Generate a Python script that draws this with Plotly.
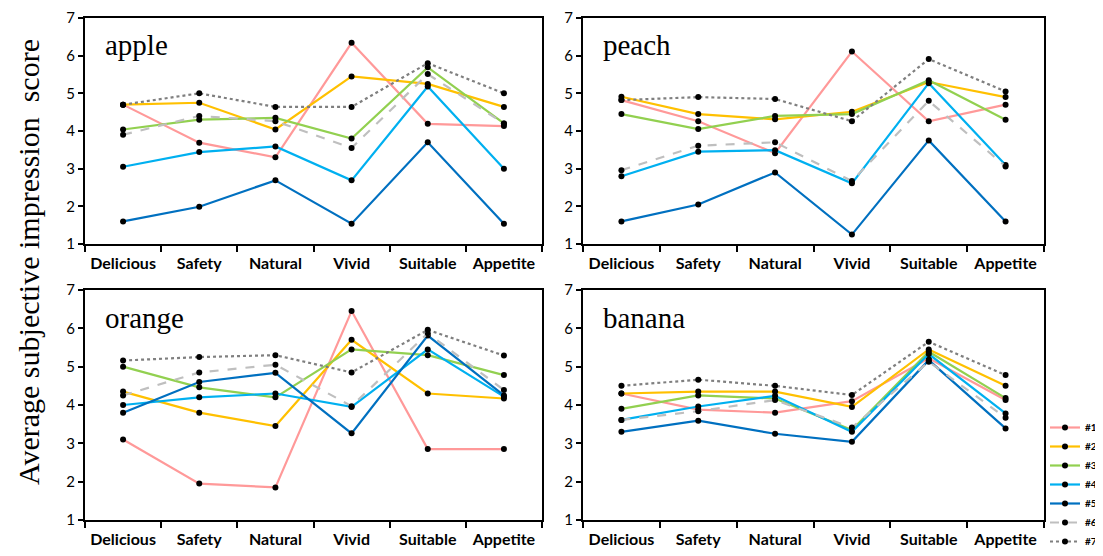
import plotly.graph_objects as go

categories = ["Delicious", "Safety", "Natural", "Vivid", "Suitable", "Appetite"]
series_names = ["#1", "#2", "#3", "#4", "#5", "#6", "#7"]
y_ticks = [1, 2, 3, 4, 5, 6, 7]

apple = [
    [4.70, 3.69, 3.30, 6.34, 4.19, 4.13],
    [4.70, 4.75, 4.04, 5.45, 5.25, 4.64],
    [4.04, 4.30, 4.35, 3.80, 5.69, 4.20],
    [3.05, 3.44, 3.59, 2.69, 5.18, 3.00],
    [1.60, 1.99, 2.69, 1.54, 3.70, 1.54],
    [3.90, 4.40, 4.26, 3.55, 5.51, 4.20],
    [4.70, 5.00, 4.64, 4.64, 5.80, 5.00],
]
peach = [
    [4.82, 4.26, 3.41, 6.11, 4.26, 4.70],
    [4.91, 4.45, 4.31, 4.51, 5.30, 4.90],
    [4.45, 4.05, 4.40, 4.45, 5.35, 4.30],
    [2.80, 3.45, 3.49, 2.61, 5.27, 3.10],
    [1.60, 2.05, 2.90, 1.25, 3.75, 1.60],
    [2.96, 3.61, 3.70, 2.67, 4.80, 3.06],
    [4.82, 4.90, 4.85, 4.26, 5.91, 5.05],
]
orange = [
    [3.10, 1.95, 1.85, 6.45, 2.85, 2.85],
    [4.35, 3.80, 3.45, 5.70, 4.30, 4.17],
    [5.00, 4.46, 4.20, 5.45, 5.30, 4.78],
    [4.00, 4.20, 4.30, 3.95, 5.45, 4.22],
    [3.80, 4.60, 4.84, 3.26, 5.81, 4.25],
    [4.25, 4.85, 5.05, 3.97, 5.87, 4.39],
    [5.16, 5.25, 5.30, 4.85, 5.96, 5.29],
]
banana = [
    [4.30, 3.88, 3.80, 4.10, 5.22, 4.13],
    [4.30, 4.35, 4.35, 3.95, 5.45, 4.50],
    [3.90, 4.25, 4.17, 3.35, 5.39, 4.18],
    [3.61, 3.96, 4.24, 3.30, 5.33, 3.78],
    [3.30, 3.59, 3.25, 3.04, 5.17, 3.39],
    [3.61, 3.84, 4.13, 3.41, 5.13, 3.67],
    [4.50, 4.66, 4.50, 4.26, 5.65, 4.78],
]
fruits = ["apple", "peach", "orange", "banana"]
fruit_data = [apple, peach, orange, banana]

colors = ["#FF9999", "#FFC000", "#92D050", "#00B0F0", "#0070C0", "#BFBFBF", "#7F7F7F"]
dashes = ["solid", "solid", "solid", "solid", "solid", "dash", "dot"]

# page body has an 8px margin, so the figure is drawn 8px smaller and offset
OFF = 8
W, H = 1103 - OFF, 556 - OFF


def px_x(v):
    return (v - OFF) / W


def px_y(v):
    return 1 - (v - OFF) / H


x_domains = [[px_x(85), px_x(542)], [px_x(583), px_x(1044)],
             [px_x(85), px_x(542)], [px_x(583), px_x(1044)]]
y_domains = [[px_y(244), px_y(18)], [px_y(244), px_y(18)],
             [px_y(520), px_y(290)], [px_y(520), px_y(290)]]

fig = go.Figure()
for p, (fruit, data) in enumerate(zip(fruits, fruit_data)):
    ax = "" if p == 0 else str(p + 1)
    for i, vals in enumerate(data):
        fig.add_trace(go.Scatter(
            x=categories, y=vals, name=series_names[i],
            mode="lines+markers",
            line=dict(color=colors[i], width=2.2, dash=dashes[i]),
            marker=dict(color="black", size=6),
            xaxis="x" + ax, yaxis="y" + ax,
            showlegend=(p == 3), legendrank=i,
        ))

layout = dict(
    width=W, height=H,
    margin=dict(l=0, r=0, t=0, b=0, autoexpand=False),
    paper_bgcolor="white", plot_bgcolor="white",
    showlegend=True,
    legend=dict(x=px_x(1045), y=0.0, xanchor="left", yanchor="bottom",
                itemwidth=30, tracegroupgap=0,
                font=dict(family="Lato", size=10, color="black", weight="bold"),
                bgcolor="rgba(0,0,0,0)", traceorder="normal"),
    annotations=[],
)
for p, fruit in enumerate(fruits):
    ax = "" if p == 0 else str(p + 1)
    layout["xaxis" + ax] = dict(
        domain=x_domains[p], anchor="y" + ax, type="category",
        categoryorder="array", categoryarray=categories,
        range=[-0.5, 5.5], tickson="boundaries", ticks="outside", ticklen=6,
        tickwidth=1.5, tickcolor="black", automargin=False,
        showline=True, linecolor="black", linewidth=2, mirror=True,
        showgrid=False, zeroline=False,
        tickfont=dict(family="Lato", size=16, color="black", weight="bold"),
        ticklabelstandoff=4,
    )
    layout["yaxis" + ax] = dict(
        domain=y_domains[p], anchor="x" + ax, range=[1, 7],
        tickvals=y_ticks, ticks="outside", ticklen=5, tickwidth=1.5, tickcolor="black",
        showline=True, linecolor="black", linewidth=2, mirror=True,
        showgrid=False, zeroline=False, automargin=False,
        ticklabeloverflow="allow",
        tickfont=dict(family="Lato", size=15, color="black"),
    )
    layout["annotations"].append(dict(
        text=fruit, xref="x" + ax + " domain", yref="y" + ax + " domain",
        x=0.04, y=0.88, xanchor="left", yanchor="middle", showarrow=False,
        font=dict(family="Liberation Serif", size=29, color="black"),
    ))

layout["annotations"].append(dict(
    text="Average subjective impression  score", xref="paper", yref="paper",
    x=px_x(29), y=px_y(262), xanchor="center", yanchor="middle", textangle=-90,
    showarrow=False, font=dict(family="Liberation Serif", size=30, color="black"),
))

fig.update_layout(**layout)
fig.write_html("out.html")
